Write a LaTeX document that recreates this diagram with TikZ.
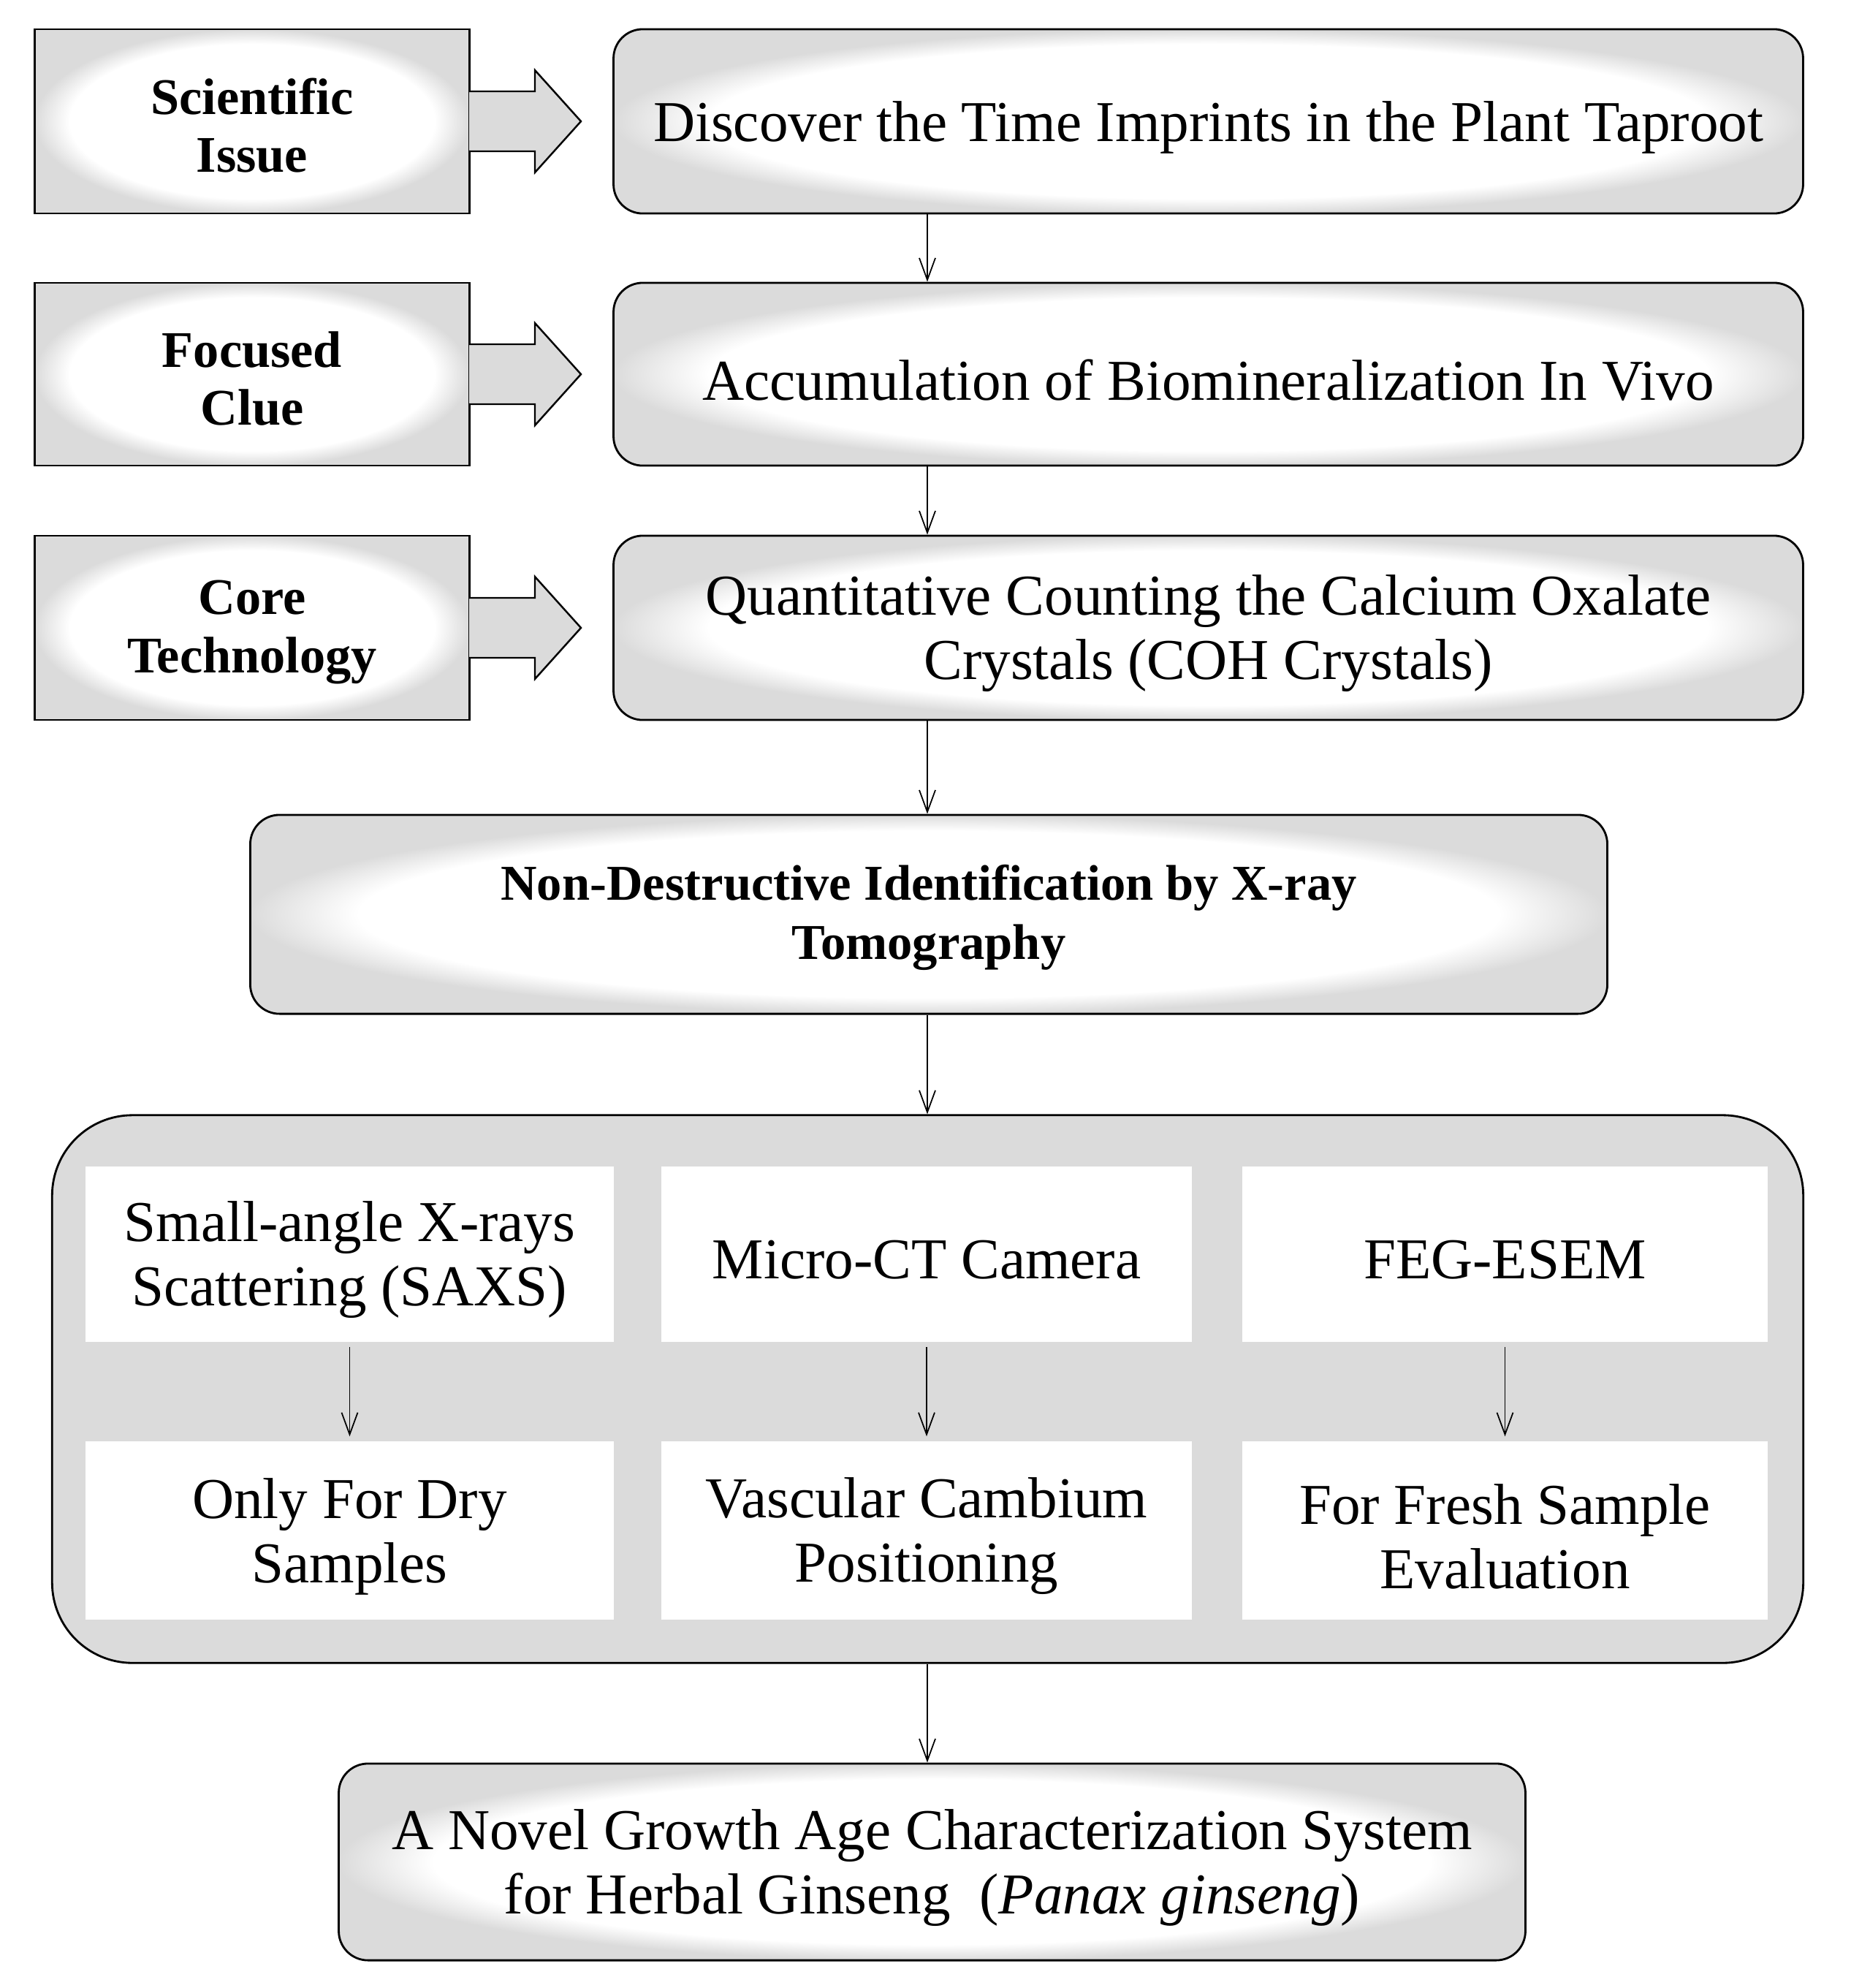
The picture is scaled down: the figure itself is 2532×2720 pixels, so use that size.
\documentclass[tikz,border=0pt]{standalone}
\usepackage{fontspec}
\setmainfont{Liberation Serif}
\usetikzlibrary{arrows.meta}
\definecolor{lgray}{gray}{0.86}
\pgfdeclareradialshading{softglow}{\pgfpoint{0bp}{0bp}}{color(0bp)=(white); color(21bp)=(white); color(25bp)=(lgray); color(50bp)=(lgray)}
\tikzset{
  mainfont/.style={font=\fontsize{22.5}{25}\selectfont},
  sidefont/.style={font=\fontsize{20}{22.5}\selectfont\bfseries},
  boldfont/.style={font=\fontsize{19.5}{23}\selectfont\bfseries},
  maintxt/.style={mainfont, align=center, inner sep=0pt, yshift=-0.08cm},
  sidetxt/.style={sidefont, align=center, inner sep=0pt, yshift=-0.06cm},
  boldtxt/.style={boldfont, align=center, inner sep=0pt, yshift=-0.04cm},
  sidebox/.style={draw=black, line width=0.8pt, shading=softglow, minimum width=5.94cm, inner sep=0pt},
  stagebox/.style={draw=black, line width=0.8pt, shading=softglow, rounded corners=0.4cm, minimum width=16.27cm, inner sep=0pt},
  cellbox/.style={fill=white, draw=none, inner sep=0pt},
  arr/.style={draw=black, line width=0.5pt, -{Straight Barb[length=0.3cm,width=0.22cm,line width=0.5pt]}},
  blockarrow/.style={draw=black, line width=0.7pt, line join=miter}
}
\begin{document}
\begin{tikzpicture}[x=0.01cm,y=-0.01cm]
\useasboundingbox (0,0) rectangle (2532,2720);
\fill[white] (0,0) rectangle (2532,2720);

% side boxes
\node[sidebox, minimum height=2.52cm, label={[sidetxt]center:{Scientific\\Issue}}] (s1) at (345,166) {};
\node[sidebox, minimum height=2.50cm, label={[sidetxt]center:{Focused\\Clue}}] (s2) at (345,512) {};
\node[sidebox, minimum height=2.52cm, label={[sidetxt]center:{Core\\Technology}}] (s3) at (345,859) {};

% stage boxes
\node[stagebox, minimum height=2.52cm, label={[maintxt]center:{Discover the Time Imprints in the Plant Taproot}}] (r1) at (1653.5,166) {};
\node[stagebox, minimum height=2.50cm, label={[maintxt]center:{Accumulation of Biomineralization In Vivo}}] (r2) at (1653.5,512) {};
\node[stagebox, minimum height=2.52cm, label={[maintxt]center:{Quantitative Counting the Calcium Oxalate\\Crystals (COH Crystals)}}] (r3) at (1653.5,859) {};

% block arrows
\foreach \cy in {166, 512, 859}{
  \fill[lgray] (642,\cy-41) -- (732,\cy-41) -- (732,\cy-70) -- (795,\cy) -- (732,\cy+70) -- (732,\cy+41) -- (642,\cy+41) -- cycle;
  \draw[blockarrow] (642,\cy-41) -- (732,\cy-41) -- (732,\cy-70) -- (795,\cy) -- (732,\cy+70) -- (732,\cy+41) -- (642,\cy+41);
}

% identification box
\node[draw=black, line width=0.8pt, shading=softglow, rounded corners=0.4cm, minimum width=18.56cm, minimum height=2.72cm, inner sep=0pt, label={[boldtxt]center:{Non-Destructive Identification by X-ray\\Tomography}}] (nd) at (1271,1251) {};

\coordinate (ax) at (1269,0);

% big box
\node[draw=black, line width=0.8pt, fill=lgray, rounded corners=1.1cm, minimum width=23.95cm, minimum height=7.49cm, inner sep=0pt] (big) at (1269.5,1900.5) {};

% cells
\node[cellbox, minimum width=7.23cm, minimum height=2.40cm, label={[maintxt]center:{Small-angle X-rays\\Scattering (SAXS)}}] (c11) at (478.5,1716) {};
\node[cellbox, minimum width=7.26cm, minimum height=2.40cm, label={[maintxt]center:{Micro-CT Camera}}] (c12) at (1268,1716) {};
\node[cellbox, minimum width=7.19cm, minimum height=2.40cm, label={[maintxt]center:{FEG-ESEM}}] (c13) at (2059.5,1716) {};
\node[cellbox, minimum width=7.23cm, minimum height=2.44cm, label={[maintxt]center:{Only For Dry\\Samples}}] (c21) at (478.5,2094) {};
\node[cellbox, minimum width=7.26cm, minimum height=2.44cm, label={[maintxt]center:{Vascular Cambium\\Positioning}}] (c22) at (1268,2094) {};
\node[cellbox, minimum width=7.19cm, minimum height=2.44cm, label={[maintxt]center:{For Fresh Sample\\Evaluation}}] (c23) at (2059.5,2094) {};

% final box
\node[stagebox, minimum width=16.23cm, minimum height=2.69cm, label={[maintxt]center:{A Novel Growth Age Characterization System\\for Herbal Ginseng\ \ (\textit{Panax ginseng})}}] (fin) at (1275.5,2547.5) {};

% connectors
\draw[arr] (r1.south -| ax) -- (r2.north -| ax);
\draw[arr] (r2.south -| ax) -- (r3.north -| ax);
\draw[arr] (r3.south -| ax) -- (nd.north -| ax);
\draw[arr] (nd.south -| ax) -- (big.north -| ax);
\draw[arr, shorten <=0.06cm, shorten >=0.06cm] (c11) -- (c21);
\draw[arr, shorten <=0.06cm, shorten >=0.06cm] (c12) -- (c22);
\draw[arr, shorten <=0.06cm, shorten >=0.06cm] (c13) -- (c23);
\draw[arr] (big.south -| ax) -- (fin.north -| ax);
\end{tikzpicture}
\end{document}
